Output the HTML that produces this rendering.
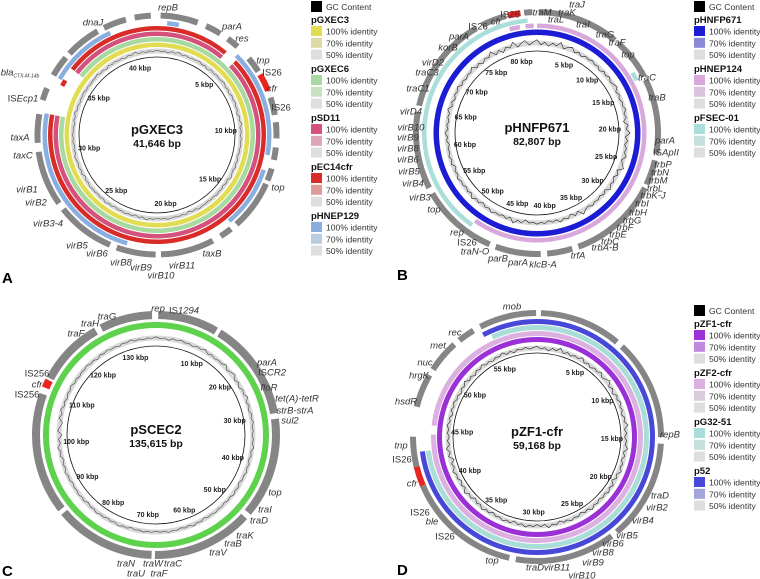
<!DOCTYPE html>
<html><head><meta charset="utf-8">
<style>
html,body{margin:0;padding:0;background:#fff;}
svg{display:block;font-family:"Liberation Sans",sans-serif;}
.lbl{font-size:9.5px;font-style:italic;fill:#333;}
.kb{font-size:7px;font-weight:bold;fill:#222;}
.lg{font-size:8.6px;fill:#333;}
.lgh{font-size:9.5px;font-weight:bold;fill:#111;}
</style></head>
<body>
<svg id="fig" width="760" height="579" viewBox="0 0 760 579" xmlns="http://www.w3.org/2000/svg"></svg>
<script>
// ---------- DATA ----------
const lenA = 41.646, lenB = 82.807, lenC = 135.615, lenD = 59.168;
const kbpTicksA = [5,10,15,20,25,30,35,40];
const kbpTicksB = [5,10,15,20,25,30,35,40,45,50,55,60,65,70,75,80];
const kbpTicksC = [10,20,30,40,50,60,70,80,90,100,110,120,130];
const kbpTicksD = [5,10,15,20,25,30,35,40,45,50,55];
// identity ring segments [start kbp, end kbp]
const ringA_pGXEC3 = [[0,41.646]];
const ringA_pGXEC6 = [[35.6,41.646],[0,32.5]];
const ringA_pSD11 = [[35.6,41.646],[0,4.6],[5.4,32.5]];
const ringA_pEC14cfr = [[35.6,41.646],[0,4.6],[5.4,32.5],[34.4,34.8]];
const ringA_pHNEP129 = [[34.7,38.8],[0.6,1.3],[5.2,11.6],[12.5,16.2],[22.6,32.5]];
const ringB_pHNFP671 = [[0,82.807]];
const ringB_pHNEP124 = [[0,49.5],[79.4,80.7],[81.4,82.4]];
const ringB_pFSEC01 = [[49.5,81.7],[13.3,14.3]];
const ringC_pSCEC2 = [[0,135.615]];
const ringD_pZF1 = [[0,59.168]];
const ringD_pZF2 = [[0,44.6],[45.4,59.168]];
const ringD_pG32 = [[55.2,59.168],[0,43.2]];
const ringD_p52 = [[54.6,59.168],[0,43.2]];
// gene segments [start kbp, end kbp]
const genesA = [[0.2,2.3],[2.8,3.7],[4.2,4.9],[5.8,6.7],[8.3,9.3],[9.7,10.6],[11.1,11.8],[12.3,13.0],[13.2,16.0],[16.4,17.1],[17.6,20.6],[20.9,23.1],[23.5,26.8],[27.2,30.3],[30.8,32.4],[33.2,33.9],[34.7,35.9],[36.2,38.2],[38.6,39.9],[40.4,41.3]];
const cfrA = [[6.9,7.9]];
const genesB = [[0.2,9.2],[9.7,14.3],[14.7,23.0],[23.7,26.5],[26.9,36.8],[37.5,40.3],[41,46],[46.7,55.2],[55.9,64.4],[65.1,75.9],[76.6,79.4],[81.4,82.3]];
const cfrB = [[79.6,81.0]];
const genesC = [[0.4,11.3],[12,30],[31,49],[50,68],[68.6,86.6],[87.4,109.2],[112.3,124.3],[125.4,134.9]];
const cfrC = [[110.4,111.9]];
const genesD = [[54.7,59.1],[0.3,6.6],[7.1,14.8],[15.3,23.0],[23.5,31.2],[31.7,40.6],[42.1,44.4],[46.7,49.3],[49.8,52.3],[52.8,54.1]];
const cfrD = [[40.6,42.1]];
// GC content deviation (relative) sampled around each plasmid
const gcA = [0.3,-0.5,0.6,-0.2,0.4,-0.7,0.2,0.5,-0.4,0.3,-0.6,0.7,-0.3,0.2,-0.5,0.4,0.6,-0.4,0.3,-0.2,0.5,-0.6,0.2,0.4,-0.3,0.6,-0.5,0.3,-0.4,0.5,-0.2,0.4,-0.6,0.3,0.5,-0.4,0.2,-0.5,0.6,-0.3,0.4,-0.2,0.5,-0.6,0.3,-0.4,0.7,-0.3];
const gcB = [0.8,-0.6,0.9,0.7,-0.4,0.3,-0.5,0.4,0.6,-0.3,0.5,-0.7,0.8,-0.4,0.6,0.9,-0.5,0.7,-0.3,0.4,0.9,-0.6,0.5,-0.4,0.3,-0.6,0.8,-0.3,0.4,-0.5,0.6,-0.3,0.4,-0.6,0.3,-0.4,0.5,-0.3,0.6,-0.4,0.5,-0.3,0.7,-0.5,0.9,-0.7,1.0,0.8];
const gcC = [0.4,-0.5,0.3,-0.4,0.6,-0.3,0.7,0.9,-0.6,0.8,-0.5,0.4,-0.3,0.5,-0.4,0.3,-0.5,0.4,-0.3,0.3,-0.4,0.5,-0.3,0.4,-0.3,0.3,-0.4,0.5,-0.3,0.4,-0.5,0.3,-0.4,0.5,-0.6,0.7,-1.0,-0.9,0.6,-0.4,0.5,-0.3,0.4,-0.5,0.3,-0.4,0.5,-0.3];
const gcD = [0.5,-0.6,0.8,-0.4,0.7,-0.5,0.6,0.9,-0.7,0.5,-0.6,0.8,-0.4,0.7,-0.5,0.6,-0.8,0.5,-0.4,0.6,-0.5,0.4,-0.6,0.7,-0.4,0.5,-0.6,0.4,-0.5,0.6,-0.7,0.8,-0.5,0.6,-0.9,0.7,-0.4,0.5,-0.6,0.4,-0.5,0.7,-0.6,0.5,-0.4,0.6,-0.5,0.4];

// ---------- DRAW ----------
const NS = "http://www.w3.org/2000/svg";
const svg = document.getElementById('fig');
function mk(tag, attrs, parent){ const e=document.createElementNS(NS,tag); for(const k in attrs) e.setAttribute(k,attrs[k]); (parent||svg).appendChild(e); return e; }
function pt(cx,cy,r,a){ const t=a*Math.PI/180; return [cx+r*Math.sin(t), cy-r*Math.cos(t)]; }
function arcPath(cx,cy,r1,r2,a0,a1){
  if(a1<a0) a1+=360;
  if(a1-a0>=359.9){ return arcPath(cx,cy,r1,r2,a0,a0+180)+arcPath(cx,cy,r1,r2,a0+180,a0+359.99); }
  const L=(a1-a0)>180?1:0;
  const p1=pt(cx,cy,r2,a0),p2=pt(cx,cy,r2,a1),p3=pt(cx,cy,r1,a1),p4=pt(cx,cy,r1,a0);
  return `M${p1[0]},${p1[1]}A${r2},${r2} 0 ${L} 1 ${p2[0]},${p2[1]}L${p3[0]},${p3[1]}A${r1},${r1} 0 ${L} 0 ${p4[0]},${p4[1]}Z`;
}
function drawSegs(g,P,segs,r1,r2,color,name){
  segs.forEach(s=>{
    const p=mk('path',{d:arcPath(P.cx,P.cy,r1,r2,s[0]/P.len*360,s[1]/P.len*360),fill:color},g);
    
    
  });
}
function drawPanel(P){
  const g=mk('g',{});
  
  
  P.rings.forEach(R=>drawSegs(g,P,R.data,R.r1,R.r2,R.color,R.name));
  drawSegs(g,P,P.genes,P.gr1,P.gr2,'#858585','gene-arc');
  drawSegs(g,P,P.cfr,P.gr1,P.gr2,'#e8261f','cfr-gene-arc');
  // gc content
  const band=mk('path',{d:arcPath(P.cx,P.cy,P.gcR-2.5,P.gcR+2.5,0,360),fill:'#d8d8d8'},g);
  
  
  const n=P.gc.length; let pts=[];
  P.gc.forEach((v,i)=>{
    const a=i/n*360;
    const q=pt(P.cx,P.cy,P.gcR+v*P.gcAmp,a);
    const q2=pt(P.cx,P.cy,P.gcR-v*P.gcAmp*0.5,a+120/n);
    const q3=pt(P.cx,P.cy,P.gcR+v*P.gcAmp*0.3,a+240/n);
    pts.push(q.join(','),q2.join(','),q3.join(','));
  });
  pts.push(pts[0]);
  const pl=mk('polyline',{points:pts.join(' '),fill:'none',stroke:P.gcColor,'stroke-width':0.6},g);
  
  
  const c=mk('circle',{cx:P.cx,cy:P.cy,r:P.rIn,fill:'none',stroke:'#111','stroke-width':0.8},g);
  
  
  P.ticks.forEach(k=>{
    const a=k/P.len*360; const q=pt(P.cx,P.cy,P.rIn-9,a);
    const t=mk('text',{x:q[0],y:q[1]+2.5,'text-anchor':'middle',class:'kb'},g); t.textContent=k+' kbp';
    
    
  });
  const t1=mk('text',{x:P.cx,y:P.cy-1,'text-anchor':'middle','font-size':13,'font-weight':'bold',fill:'#111'},g); t1.textContent=P.title;
  
  
  const t2=mk('text',{x:P.cx,y:P.cy+12,'text-anchor':'middle','font-size':10.5,'font-weight':'bold',fill:'#111'},g); t2.textContent=P.size;
  
  
  P.labels.forEach(L=>{
    const t=mk('text',{x:L[0],y:L[1]+3.5,'text-anchor':'middle',class:'lbl'},g);
    if(L[3]) t.setAttribute('fill','#e8261f');
    if(L[4]) t.style.fontStyle='normal';
    t.innerHTML=L[2];
    
    
  });
}
function legend(x,y,groups){
  const g=mk('g',{});
  
  
  mk('rect',{x:x,y:y,width:11,height:11,fill:'#000'},g);
  const gt=mk('text',{x:x+15,y:y+9,class:'lg'},g); gt.textContent='GC Content';
  
  
  let yy=y+12;
  groups.forEach(G=>{
    const h=mk('text',{x:x,y:yy+10,class:'lgh'},g); h.textContent=G[0];
    
    
    ['100% identity','70% identity','50% identity'].forEach((s,i)=>{
      const ry=yy+13+i*11.8;
      mk('rect',{x:x,y:ry,width:11,height:10,fill:G[1+i]},g);
      const t=mk('text',{x:x+15,y:ry+8.5,class:'lg'},g); t.textContent=s;
      
      
    });
    yy+=49;
  });
}

drawPanel({name:'panel-a-pgxec3',cx:157,cy:135,len:lenA,rIn:78,gcR:84,gcAmp:2.5,gcColor:'#555',gc:gcA,ticks:kbpTicksA,
 title:'pGXEC3',size:'41,646 bp',gr1:116.5,gr2:122.5,genes:genesA,cfr:cfrA,
 rings:[{data:ringA_pGXEC3,r1:88,r2:92.5,color:'#e2dc52',name:'ring-pgxec3'},
        {data:ringA_pGXEC6,r1:93.5,r2:98,color:'#a8d9a0',name:'ring-pgxec6'},
        {data:ringA_pSD11,r1:99,r2:103.5,color:'#d4517c',name:'ring-psd11'},
        {data:ringA_pEC14cfr,r1:104.5,r2:109,color:'#d92b28',name:'ring-pec14cfr'},
        {data:ringA_pHNEP129,r1:110,r2:114.5,color:'#89afe0',name:'ring-phnep129'}],
 labels:[[168,7,'repB'],[232,26,'parA'],[242,38,'res'],[263,60,'tnp'],[272,72,'IS26',0,1],[272,88,'cfr',1],[281,107,'IS26',0,1],[278,187,'top'],[212,253,'taxB'],[182,265,'virB11'],[161,275,'virB10'],[141,267,'virB9'],[121,262,'virB8'],[97,253,'virB6'],[77,245,'virB5'],[48,223,'virB3-4'],[36,202,'virB2'],[27,189,'virB1'],[23,155,'taxC'],[20,137,'taxA'],[23,98,'IS<tspan font-style="italic">Ecp1</tspan>',0,1],[20,72,'bla<tspan font-size="5" dy="2">CTX-M-14b</tspan>'],[93,22,'dnaJ']]});
drawPanel({name:'panel-b-phnfp671',cx:537,cy:133,len:lenB,rIn:82,gcR:90,gcAmp:4,gcColor:'#222',gc:gcB,ticks:kbpTicksB,
 title:'pHNFP671',size:'82,807 bp',gr1:118,gr2:124,genes:genesB,cfr:cfrB,
 rings:[{data:ringB_pHNFP671,r1:98,r2:103.5,color:'#1c1cd4',name:'ring-phnfp671'},
        {data:ringB_pHNEP124,r1:105,r2:109.5,color:'#d8a8dd',name:'ring-phnep124'},
        {data:ringB_pFSEC01,r1:110.5,r2:115,color:'#aadedb',name:'ring-pfsec01'}],
 labels:[[577,4,'traJ'],[567,12,'traK'],[542,12,'traM'],[556,19,'traL'],[583,24,'traI'],[605,34,'traG'],[617,42,'traF'],[628,54,'top'],[647,77,'traC'],[657,97,'traB'],[665,140,'parA'],[666,152,'IS<tspan font-style="italic">ApII</tspan>',0,1],[663,164,'trbP'],[660,172,'trbN'],[658,180,'trbM'],[655,188,'trbL'],[653,195,'trbK-J'],[642,203,'trbI'],[638,212,'trbH'],[632,220,'trbG'],[625,227,'trbF'],[618,234,'trbE'],[610,241,'trbC'],[605,247,'trbA-B'],[578,255,'trfA'],[543,264,'klcB-A'],[518,262,'parA'],[498,258,'parB'],[475,251,'traN-O'],[467,242,'IS26',0,1],[457,232,'rep'],[434,209,'top'],[420,197,'virB3'],[413,183,'virB4'],[409,171,'virB5'],[408,159,'virB6'],[408,148,'virB8'],[408,137,'virB9'],[411,127,'virB10'],[411,111,'virD4'],[418,88,'traC1'],[427,72,'traC3'],[433,62,'virD2'],[448,47,'korB'],[459,36,'parA'],[478,26,'IS26',0,1],[496,21,'cfr',1],[510,14,'IS26',0,1]]});
drawPanel({name:'panel-c-pscec2',cx:156,cy:435,len:lenC,rIn:89,gcR:97,gcAmp:3,gcColor:'#444',gc:gcC,ticks:kbpTicksC,
 title:'pSCEC2',size:'135,615 bp',gr1:116,gr2:124,genes:genesC,cfr:cfrC,
 rings:[{data:ringC_pSCEC2,r1:107,r2:113,color:'#5ed24d',name:'ring-pscec2'}],
 labels:[[158,308,'rep'],[184,310,'IS<tspan font-style="italic">1294</tspan>',0,1],[107,316,'traG'],[90,323,'traH'],[76,333,'traF'],[267,362,'parA'],[272,372,'IS<tspan font-style="italic">CR2</tspan>',0,1],[269,387,'floR'],[297,398,'tet(A)-tetR'],[295,410,'strB-strA'],[290,420,'sul2'],[37,373,'IS256',0,1],[37,384,'cfr',1],[27,394,'IS256',0,1],[275,492,'top'],[265,509,'traI'],[259,520,'traD'],[245,535,'traK'],[233,543,'traB'],[218,552,'traV'],[173,563,'traC'],[153,563,'traW'],[159,573,'traF'],[136,573,'traU'],[126,563,'traN']]});
drawPanel({name:'panel-d-pzf1-cfr',cx:537,cy:437,len:lenD,rIn:84,gcR:89,gcAmp:3.5,gcColor:'#222',gc:gcD,ticks:kbpTicksD,
 title:'pZF1-cfr',size:'59,168 bp',gr1:121,gr2:127,genes:genesD,cfr:cfrD,
 rings:[{data:ringD_pZF1,r1:95,r2:100,color:'#9a30d6',name:'ring-pzf1-cfr'},
        {data:ringD_pZF2,r1:101,r2:106,color:'#dcb0e0',name:'ring-pzf2-cfr'},
        {data:ringD_pG32,r1:107,r2:112,color:'#a9ddd7',name:'ring-pg32-51'},
        {data:ringD_p52,r1:113,r2:118,color:'#4848d8',name:'ring-p52'}],
 labels:[[512,306,'mob'],[455,332,'rec'],[438,345,'met'],[425,362,'nuc'],[419,375,'hrgK'],[406,401,'hsdR'],[401,445,'tnp'],[402,459,'IS26',0,1],[412,483,'cfr',1],[420,512,'IS26',0,1],[432,521,'ble'],[445,536,'IS26',0,1],[492,560,'top'],[535,567,'traD'],[557,567,'virB11'],[582,575,'virB10'],[593,562,'virB9'],[603,552,'virB8'],[613,543,'virB6'],[627,535,'virB5'],[643,520,'virB4'],[657,507,'virB2'],[660,495,'traD'],[670,434,'repB']]});

legend(311,1,[['pGXEC3','#e2dc52','#dedaa6','#dedede'],['pGXEC6','#a8d9a0','#c6e2c0','#dedede'],['pSD11','#d4517c','#dca6b8','#dedede'],['pEC14cfr','#d92b28','#dc9c98','#dedede'],['pHNEP129','#89afe0','#b9cde0','#dedede']]);
legend(694,1,[['pHNFP671','#1c1cd4','#8a8ad8','#dedede'],['pHNEP124','#d8a8dd','#dac4dd','#dedede'],['pFSEC-01','#aadedb','#c8e0dd','#dedede']]);
legend(694,305,[['pZF1-cfr','#9a30d6','#bf8ade','#dedede'],['pZF2-cfr','#dcb0e0','#dccadf','#dedede'],['pG32-51','#a9ddd7','#c6e0dc','#dedede'],['p52','#4848d8','#a4a4dc','#dedede']]);

[['A',2,283],['B',397,280],['C',2,576],['D',397,575]].forEach(p=>{
  const t=mk('text',{x:p[1],y:p[2],'font-size':15,'font-weight':'bold',fill:'#000'});
  t.textContent=p[0];
  
  
});
</script>
</body></html>
